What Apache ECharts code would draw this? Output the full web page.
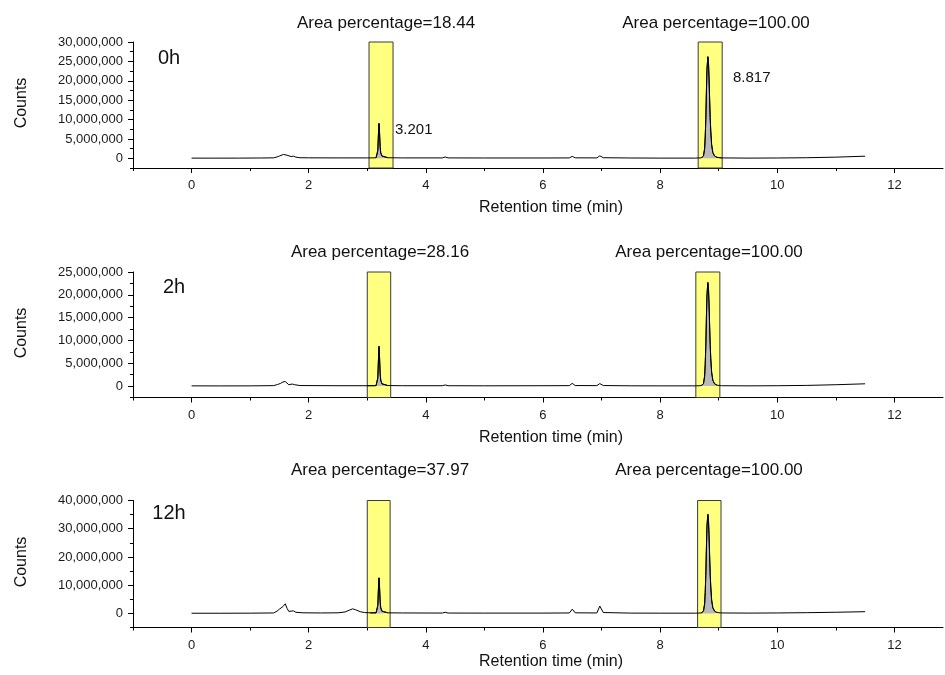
<!DOCTYPE html>
<html>
<head>
<meta charset="utf-8">
<script src="https://cdn.jsdelivr.net/npm/echarts/dist/echarts.min.js"></script>
<style>
html,body{margin:0;padding:0;background:#fff;overflow:hidden;}
#chart{width:945px;height:675px;}
</style>
</head>
<body>
<div id="chart"></div>
<script>
// ---------- DATA (retention time in min, counts in millions) ----------
const panelNames = ['0h', '2h', '12h'];

const trace0h = [[0.00,0.05],[0.30,0.04],[0.80,0.05],[1.20,0.08],[1.40,0.12],[1.46,0.35],[1.50,0.6],[1.53,0.55],[1.57,1.0],[1.60,1.45],[1.63,0.8],[1.66,0.35],[1.70,0.45],[1.74,0.55],[1.78,0.3],[1.85,0.15],[2.00,0.12],[2.50,0.1],[3.00,0.1],[3.15,0.12],[3.17,0.5],[3.18,2.0],[3.19,6.0],[3.20,9.0],[3.21,6.5],[3.22,3.0],[3.23,1.4],[3.25,0.6],[3.28,0.3],[3.35,0.15],[3.60,0.1],[4.28,0.1],[4.33,0.35],[4.38,0.1],[5.00,0.08],[6.00,0.08],[6.45,0.1],[6.50,0.5],[6.55,0.12],[6.92,0.1],[6.97,0.65],[7.03,0.15],[7.50,0.08],[8.00,0.05],[8.60,0.05],[8.70,0.12],[8.74,0.6],[8.76,2.5],[8.77,5.5],[8.78,10],[8.79,17],[8.80,23],[8.815,26.2],[8.825,25],[8.835,21],[8.845,15.5],[8.855,10.5],[8.865,7],[8.88,3.5],[8.90,1.5],[8.93,0.6],[8.97,0.25],[9.05,0.1],[9.50,0.05],[10.00,0.08],[10.50,0.15],[11.00,0.3],[11.50,0.55]];

const trace2h = [[0.00,0.05],[0.50,0.04],[1.00,0.05],[1.40,0.1],[1.47,0.35],[1.52,0.6],[1.56,0.9],[1.60,1.0],[1.63,0.6],[1.66,0.3],[1.72,0.45],[1.76,0.3],[1.85,0.12],[2.50,0.08],[3.00,0.08],[3.15,0.1],[3.17,0.45],[3.18,1.8],[3.19,5.5],[3.20,8.7],[3.21,6.2],[3.22,2.8],[3.23,1.3],[3.25,0.5],[3.28,0.25],[3.35,0.12],[3.60,0.08],[4.28,0.08],[4.33,0.25],[4.38,0.08],[5.00,0.06],[6.00,0.08],[6.45,0.1],[6.50,0.6],[6.55,0.12],[6.92,0.1],[6.97,0.55],[7.03,0.12],[7.50,0.06],[8.00,0.05],[8.60,0.05],[8.70,0.1],[8.74,0.5],[8.76,2.2],[8.77,4.8],[8.78,8.7],[8.79,14.8],[8.80,20],[8.815,22.7],[8.825,21.7],[8.835,18.2],[8.845,13.4],[8.855,9.1],[8.865,6],[8.88,3],[8.90,1.3],[8.93,0.5],[8.97,0.2],[9.05,0.08],[9.50,0.05],[10.00,0.08],[10.50,0.15],[11.00,0.3],[11.50,0.5]];

const trace12h = [[0.00,0.05],[0.50,0.05],[1.00,0.08],[1.40,0.15],[1.46,0.8],[1.50,1.5],[1.53,1.3],[1.56,2.4],[1.60,3.4],[1.63,1.8],[1.66,0.7],[1.70,0.8],[1.74,0.9],[1.78,0.4],[1.90,0.2],[2.20,0.15],[2.50,0.2],[2.62,0.5],[2.70,1.2],[2.75,1.6],[2.80,1.3],[2.88,0.6],[2.95,0.3],[3.05,0.2],[3.15,0.2],[3.17,0.7],[3.18,2.8],[3.19,8.5],[3.20,12.6],[3.21,9.2],[3.22,4.2],[3.23,2.0],[3.25,0.8],[3.28,0.4],[3.35,0.2],[3.60,0.15],[4.28,0.12],[4.33,0.4],[4.38,0.12],[5.00,0.1],[6.00,0.1],[6.45,0.15],[6.50,1.5],[6.55,0.2],[6.92,0.15],[6.97,2.6],[7.03,0.3],[7.50,0.1],[8.00,0.08],[8.60,0.08],[8.70,0.15],[8.74,0.8],[8.76,3.4],[8.77,7.5],[8.78,13.5],[8.79,22.8],[8.80,31],[8.815,35.1],[8.825,33.5],[8.835,28],[8.845,20.8],[8.855,14],[8.865,9.4],[8.88,4.7],[8.90,2],[8.93,0.8],[8.97,0.3],[9.05,0.15],[9.50,0.1],[10.00,0.15],[10.50,0.25],[11.00,0.4],[11.50,0.6]];

// integration windows (min)
const boxes0h = [[3.03, 3.44], [8.65, 9.06]];
const boxes2h = [[3.00, 3.40], [8.61, 9.02]];
const boxes12h = [[3.00, 3.39], [8.64, 9.04]];

const areaPct0h = ['18.44', '100.00'];
const areaPct2h = ['28.16', '100.00'];
const areaPct12h = ['37.97', '100.00'];

const peakLabels0h = ['3.201', '8.817'];

// axis ticks
const xMajorTicks = [0, 2, 4, 6, 8, 10, 12];
const xMinorTicks = [-1, 1, 3, 5, 7, 9, 11];
const yMajor0h = [0, 5000000, 10000000, 15000000, 20000000, 25000000, 30000000];
const yMinor0h = [-2500000, 2500000, 7500000, 12500000, 17500000, 22500000, 27500000];
const yMajor2h = [0, 5000000, 10000000, 15000000, 20000000, 25000000];
const yMinor2h = [-2500000, 2500000, 7500000, 12500000, 17500000, 22500000];
const yMajor12h = [0, 10000000, 20000000, 30000000, 40000000];
const yMinor12h = [-5000000, 5000000, 15000000, 25000000, 35000000];
const yRange0h = [-2500000, 30000000];
const yRange2h = [-2500000, 25000000];
const yRange12h = [-5000000, 40000000];
const xRange = [-1, 12.83];

// ---------- BUILD ----------
const FONT = '"Liberation Sans", Arial, sans-serif';
const panels = [
  {trace: trace0h, boxes: boxes0h, pct: areaPct0h, yMajor: yMajor0h, yMinor: yMinor0h, yRange: yRange0h,
   grid: {top: 42, height: 126}, pctY: 23, pctX: [386, 716], nameXY: [169, 58], countsY: 103, titleY: 208},
  {trace: trace2h, boxes: boxes2h, pct: areaPct2h, yMajor: yMajor2h, yMinor: yMinor2h, yRange: yRange2h,
   grid: {top: 272, height: 125.5}, pctY: 252, pctX: [380, 709], nameXY: [174, 287], countsY: 333, titleY: 438},
  {trace: trace12h, boxes: boxes12h, pct: areaPct12h, yMajor: yMajor12h, yMinor: yMinor12h, yRange: yRange12h,
   grid: {top: 500.5, height: 127}, pctY: 470, pctX: [380, 709], nameXY: [169, 513], countsY: 562, titleY: 662}
];

const grids = [], xAxes = [], yAxes = [], series = [], graphics = [];
const labelStyle = {color: '#1a1a1a', fontSize: 13, fontFamily: FONT};

panels.forEach((p, i) => {
  grids.push({left: 133, right: 2, top: p.grid.top, height: p.grid.height, containLabel: false, outerBoundsMode: 'none'});
  xAxes.push({
    gridIndex: i, type: 'value', min: xRange[0], max: xRange[1], position: 'bottom',
    axisLine: {onZero: false, lineStyle: {color: '#000', width: 1}},
    axisTick: {customValues: xMajorTicks, length: 5, lineStyle: {color: '#000'}},
    axisLabel: {customValues: xMajorTicks, margin: 11, ...labelStyle},
    splitLine: {show: false}
  });
  xAxes.push({
    gridIndex: i, type: 'value', min: xRange[0], max: xRange[1], position: 'bottom',
    axisLine: {show: false, onZero: false},
    axisTick: {customValues: xMinorTicks, length: 3, lineStyle: {color: '#000'}},
    axisLabel: {show: false}, splitLine: {show: false}
  });
  yAxes.push({
    gridIndex: i, type: 'value', min: p.yRange[0], max: p.yRange[1], position: 'left',
    axisLine: {show: true, onZero: false, lineStyle: {color: '#000', width: 1}},
    axisTick: {show: true, customValues: p.yMajor, length: 5, lineStyle: {color: '#000'}},
    axisLabel: {customValues: p.yMajor, margin: 10, ...labelStyle,
      formatter: v => Number(v).toLocaleString('en-US')},
    splitLine: {show: false}
  });
  yAxes.push({
    gridIndex: i, type: 'value', min: p.yRange[0], max: p.yRange[1], position: 'left', offset: 0,
    axisLine: {show: false, onZero: false},
    axisTick: {show: true, customValues: p.yMinor, length: 3, lineStyle: {color: '#000'}},
    axisLabel: {show: false}, splitLine: {show: false}
  });

  const data = p.trace.map(d => [d[0], d[1] * 1e6]);
  series.push({
    type: 'line', xAxisIndex: 2 * i, yAxisIndex: 2 * i, data: data,
    showSymbol: false, symbol: 'none', animation: false, z: 3,
    lineStyle: {color: '#000', width: 1},
    markArea: {
      silent: true, z: 1,
      itemStyle: {color: '#ffff80', borderColor: '#3a3a3a', borderWidth: 1},
      data: p.boxes.map(b => [{xAxis: b[0]}, {xAxis: b[1]}])
    }
  });
  p.boxes.forEach(b => {
    series.push({
      type: 'line', xAxisIndex: 2 * i, yAxisIndex: 2 * i,
      data: data.filter(d => d[0] >= b[0] && d[0] <= b[1]),
      showSymbol: false, symbol: 'none', animation: false, z: 2,
      lineStyle: {color: '#000', width: 1},
      areaStyle: {color: '#b9b9b9', opacity: 1}
    });
  });

  p.pct.forEach((t, k) => {
    graphics.push({type: 'text', x: p.pctX[k], y: p.pctY,
      style: {text: 'Area percentage=' + t, font: '17px ' + FONT, fill: '#111', align: 'center', verticalAlign: 'middle'}});
  });
  graphics.push({type: 'text', x: p.nameXY[0], y: p.nameXY[1],
    style: {text: panelNames[i], font: '20px ' + FONT, fill: '#111', align: 'center', verticalAlign: 'middle'}});
  graphics.push({type: 'text', x: 22, y: p.countsY, rotation: Math.PI / 2,
    style: {text: 'Counts', font: '16px ' + FONT, fill: '#111', align: 'center', verticalAlign: 'middle'}});
  graphics.push({type: 'text', x: 551, y: p.titleY,
    style: {text: 'Retention time (min)', font: '16px ' + FONT, fill: '#111', align: 'center', verticalAlign: 'middle'}});
});

graphics.push({type: 'text', x: 395, y: 130,
  style: {text: peakLabels0h[0], font: '15px ' + FONT, fill: '#111', align: 'left', verticalAlign: 'middle'}});
graphics.push({type: 'text', x: 733, y: 78,
  style: {text: peakLabels0h[1], font: '15px ' + FONT, fill: '#111', align: 'left', verticalAlign: 'middle'}});

const chart = echarts.init(document.getElementById('chart'), null, {renderer: 'canvas'});
chart.setOption({
  backgroundColor: '#fff',
  animation: false,
  grid: grids, xAxis: xAxes, yAxis: yAxes, series: series,
  graphic: graphics
});
</script>
</body>
</html>
